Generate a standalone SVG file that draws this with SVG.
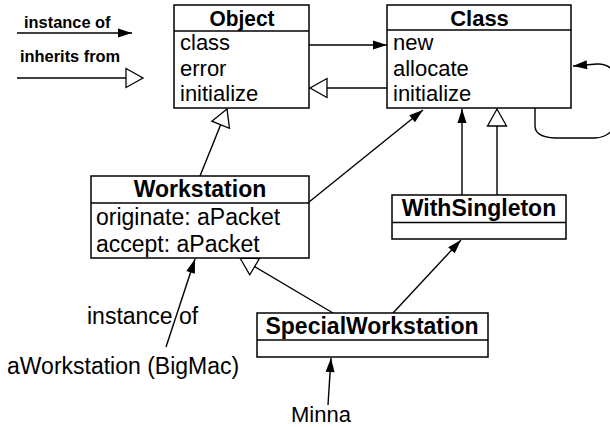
<svg xmlns="http://www.w3.org/2000/svg" width="610" height="427" viewBox="0 0 610 427">
<style>
.box{fill:#fff;stroke:#000;stroke-width:1.5}
.ln{fill:none;stroke:#000;stroke-width:1.4}
.h{font-family:"Liberation Sans",Arial,sans-serif;font-weight:bold;font-size:22px;text-anchor:middle}
.h2{font-family:"Liberation Sans",Arial,sans-serif;font-weight:bold;font-size:23px;text-anchor:middle}
.t{font-family:"Liberation Sans",Arial,sans-serif;font-size:22px}
.t2{font-family:"Liberation Sans",Arial,sans-serif;font-size:23px}
.lg{font-family:"Liberation Sans",Arial,sans-serif;font-weight:bold;font-size:16.4px}
</style>
<defs>
<marker id="fa" markerUnits="userSpaceOnUse" markerWidth="16" markerHeight="12" refX="14" refY="4.5" orient="auto" overflow="visible">
<path d="M0,0 L14,4.5 L0,9 z" fill="#000"/>
</marker>
<marker id="ha" markerUnits="userSpaceOnUse" markerWidth="20" markerHeight="22" refX="17" refY="9.5" orient="auto" overflow="visible">
<path d="M0,0 L17,9.5 L0,19 z" fill="#fff" stroke="#000" stroke-width="1.3"/>
</marker>
</defs>
<g id="legend">
<text class="lg" x="24" y="27.5">instance of</text>
<line class="ln" x1="17" y1="33" x2="132" y2="33" marker-end="url(#fa)"/>
<text class="lg" x="20" y="62">inherits from</text>
<line class="ln" x1="17" y1="78" x2="143" y2="78" marker-end="url(#ha)"/>
</g>
<g id="connectors">
<line class="ln" x1="309" y1="45" x2="387" y2="45" marker-end="url(#fa)"/>
<line class="ln" x1="387" y1="88" x2="310" y2="88" marker-end="url(#ha)"/>
<path class="ln" d="M535,108 L535,126 Q535,137 555,138 L595,138 Q620,137 620,100 Q620,63 597,64 L573,66" marker-end="url(#fa)"/>
<line class="ln" x1="200" y1="176" x2="227" y2="109" marker-end="url(#ha)"/>
<line class="ln" x1="309" y1="202" x2="423" y2="110" marker-end="url(#fa)"/>
<line class="ln" x1="462" y1="195" x2="462" y2="109" marker-end="url(#fa)"/>
<line class="ln" x1="497" y1="195" x2="497" y2="109" marker-end="url(#ha)"/>
<line class="ln" x1="333" y1="313" x2="240" y2="258" marker-end="url(#ha)"/>
<line class="ln" x1="393" y1="313" x2="461" y2="240" marker-end="url(#fa)"/>
<line class="ln" x1="166" y1="347" x2="195" y2="259" marker-end="url(#fa)"/>
<line class="ln" x1="328" y1="405" x2="331" y2="358" marker-end="url(#fa)"/>
</g>
<g id="Object">
<rect class="box" x="174" y="5" width="135" height="103"/>
<line class="ln" x1="174" y1="31" x2="309" y2="31"/>
<text class="h" x="242" y="26" textLength="65" lengthAdjust="spacingAndGlyphs">Object</text>
<text class="t" x="180" y="50">class</text>
<text class="t" x="180" y="76">error</text>
<text class="t" x="180" y="101">initialize</text>
</g>
<g id="Class">
<rect class="box" x="387" y="5" width="184" height="103"/>
<line class="ln" x1="387" y1="30" x2="571" y2="30"/>
<text class="h" x="479.5" y="26">Class</text>
<text class="t" x="393" y="50">new</text>
<text class="t" x="393" y="76">allocate</text>
<text class="t" x="393" y="101">initialize</text>
</g>
<g id="Workstation">
<rect class="box" x="91" y="176" width="218" height="82"/>
<line class="ln" x1="91" y1="203" x2="309" y2="203"/>
<text class="h2" x="200" y="197">Workstation</text>
<text class="t2" x="96" y="225">originate: aPacket</text>
<text class="t2" x="96" y="252">accept: aPacket</text>
</g>
<g id="WithSingleton">
<rect class="box" x="392" y="195" width="174" height="44"/>
<line class="ln" x1="392" y1="222.5" x2="566" y2="222.5"/>
<text class="h2" x="479" y="216">WithSingleton</text>
</g>
<g id="SpecialWorkstation">
<rect class="box" x="257" y="313" width="231" height="44"/>
<line class="ln" x1="257" y1="340" x2="488" y2="340"/>
<text class="h2" x="372" y="333.5">SpecialWorkstation</text>
</g>
<g id="labels">
<text class="t2" x="87" y="324">instance of</text>
<text class="t2" x="7" y="374">aWorkstation (BigMac)</text>
<text class="t" x="291" y="421.5">Minna</text>
</g>
</svg>
